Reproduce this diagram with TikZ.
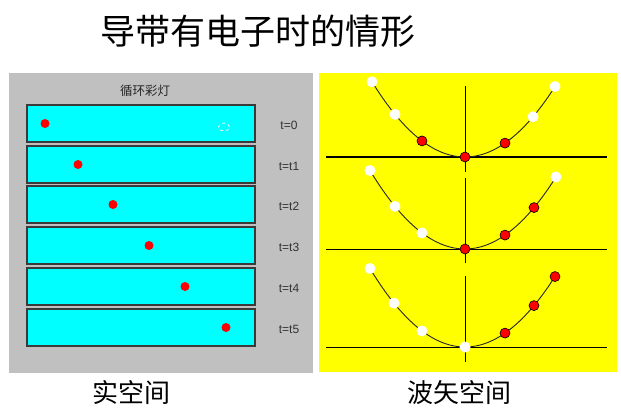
\documentclass[tikz,border=0pt]{standalone}
\usepackage{fontspec}
\setsansfont{Liberation Sans}
\newfontfamily\cjk{Noto Sans CJK SC}
\definecolor{panelgray}{HTML}{C0C0C0}
\definecolor{boxcyan}{HTML}{00FFFF}
\definecolor{panelyellow}{HTML}{FFFF00}
\definecolor{dotred}{HTML}{FF0000}
\definecolor{boxedge}{HTML}{3A3A3A}
\tikzset{
  lane/.style={draw=boxedge, fill=boxcyan, line width=1.2pt},
  elec/.style={circle, fill=dotred, inner sep=0pt, minimum size=9pt},
  tlabel/.style={font=\sffamily\fontsize{12}{14}\selectfont, text=black!80},
  axisline/.style={black, line width=1pt},
  band/.style={black!85, line width=0.9pt},
  filled/.style={circle, draw=black, fill=dotred, line width=0.6pt, inner sep=0pt, minimum size=10pt},
  empty/.style={circle, fill=white, inner sep=0pt, minimum size=11pt},
}
\begin{document}
\begin{tikzpicture}[x=1pt,y=-1pt]
\useasboundingbox (0,0) rectangle (621,409);
% title
\node[font=\cjk\fontsize{35}{40}\selectfont] (title) at (258,31) {导带有电子时的情形};
% left panel
\fill[panelgray] (9,73) rectangle (313,373);
\node[font=\cjk\fontsize{12.5}{14}\selectfont, text=black!85] (lamp) at (145,91) {循环彩灯};
\foreach \i/\top/\dx/\lab in {0/105/45/t=0, 1/146/78/t=t1, 2/186/113/t=t2, 3/227/149/t=t3, 4/268/185/t=t4, 5/309/226/t=t5}{
  \draw[lane] (27,\top) rectangle (255,\top+37);
  \node[elec] (e\i) at (\dx,\top+18.5) {};
  \node[tlabel] (t\i) at (289,\top+20.5) {\lab};
}
\draw[white, dashed, line width=0.8pt] (224,127) ellipse (5.5pt and 4pt);
\node[font=\cjk\fontsize{26}{30}\selectfont] (real) at (131,393) {实空间};
% right panel
\fill[panelyellow] (319,73) rectangle (617,372);
\node[font=\cjk\fontsize{26}{30}\selectfont] (kspace) at (459,393) {波矢空间};
% three band diagrams: base y, vertical top, vertical bottom, states (x offset : filled?)
\def\a{0.0087}
\foreach \k/\yb/\vt/\vb/\states in {
  1/157/86/172/{-93/0,-70/0,-43/1,0/1,40/1,68/0,90/0},
  2/249/178/263/{-95/0,-70/0,-43/0,0/1,40/1,69/1,91/0},
  3/347/276/362/{-95/0,-71/0,-43/0,0/0,40/1,69/1,90/1}}{
  \draw[axisline] (326,\yb) -- (607,\yb);
  \draw[axisline] (465,\vt) -- (465,\vb);
  \draw[band] plot[domain=-94:91, samples=60] ({465+\x},{\yb-\a*\x*\x});
  \foreach \dx/\f in \states {
    \ifnum\f=1
      \node[filled] at ({465+\dx},{\yb-\a*\dx*\dx}) {};
    \else
      \node[empty] at ({465+\dx},{\yb-\a*\dx*\dx}) {};
    \fi
  }
}
\end{tikzpicture}
\end{document}
